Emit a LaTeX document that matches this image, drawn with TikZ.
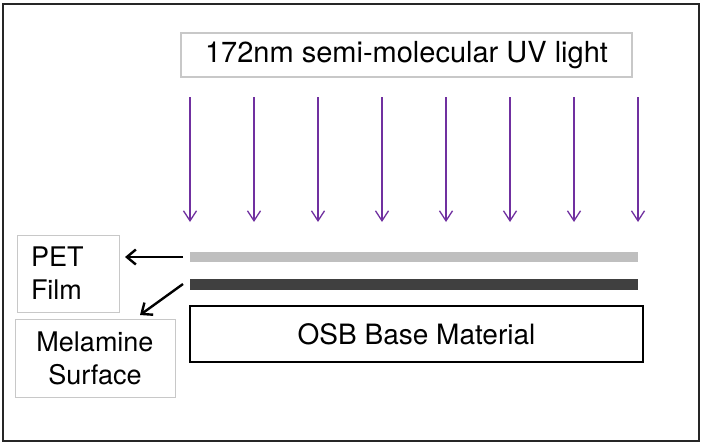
\documentclass[tikz,border=0pt]{standalone}
\usepackage{fontspec}
\setmainfont{TeX Gyre Heros}
\usetikzlibrary{arrows.meta}
\definecolor{uvpurple}{RGB}{112,48,160}
\definecolor{lightbar}{RGB}{191,191,191}
\definecolor{darkbar}{RGB}{64,64,64}
\definecolor{boxgray}{RGB}{200,200,200}
\begin{document}
\begin{tikzpicture}[x=1pt,y=-1pt,
  box/.style={rectangle,inner sep=0pt,outer sep=0pt},
  label/.style={box,draw=boxgray,line width=1pt,font=\fontsize{27}{33}\selectfont},
  bar/.style={box,minimum width=448pt},
  uvarrow/.style={draw=uvpurple,line width=1.3pt,-{Straight Barb[length=10pt,width=13pt]}},
  blkarrow/.style={draw=black,line width=2.4pt,-{Straight Barb[length=9pt,width=15pt]}}]
\useasboundingbox (0,0) rectangle (703,445);
\draw[line width=2pt,draw=black!85] (3,4) rectangle (699,441);
\node[box,draw=boxgray,line width=1.3pt,minimum width=451pt,minimum height=44pt,
  font=\fontsize{29}{34}\selectfont] (title) at (406.5,55) {172nm semi-molecular UV light};
\foreach \i in {0,...,7}{
  \coordinate (t\i) at (190+\i*64,97);
  \coordinate (b\i) at (190+\i*64,222);
  \draw[uvarrow] (t\i) -- (b\i);
}
\node[bar,fill=lightbar,minimum height=10pt] (pet bar) at (414,257) {};
\node[bar,fill=darkbar,minimum height=11pt] (mel bar) at (414,284.5) {};
\node[box,draw=black,line width=2.5pt,minimum width=453pt,minimum height=56pt,
  font=\fontsize{28}{33}\selectfont] (osb) at (416.5,334) {OSB Base Material};
\node[label,minimum width=102pt,minimum height=77pt,text width=74pt,align=left,inner xsep=14pt]
  (pet) at (68,273.5) {PET\\Film};
\node[label,minimum width=160pt,minimum height=78pt,align=center]
  (mel) at (95,358) {Melamine\\Surface};
\coordinate (petstart) at (183,257);
\coordinate (petend) at (125,257);
\coordinate (melstart) at (183,284);
\coordinate (melend) at (140,315);
\draw[blkarrow] (petstart) -- (petend);
\draw[blkarrow] (melstart) -- (melend);
\end{tikzpicture}
\end{document}
